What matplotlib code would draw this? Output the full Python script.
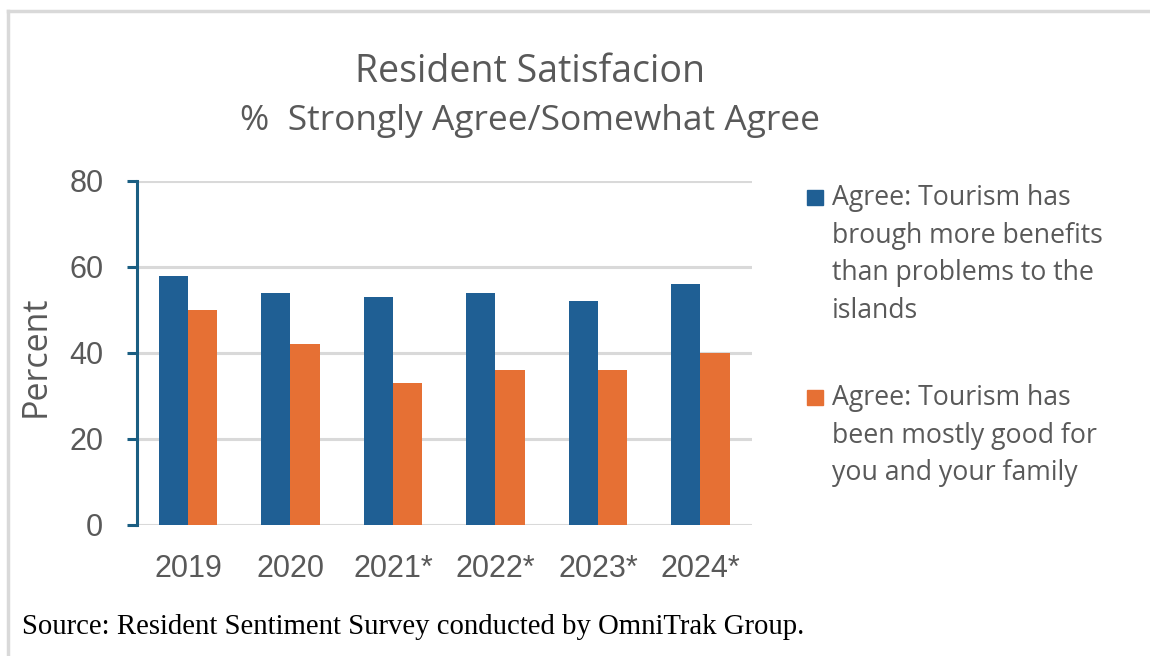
import matplotlib as mpl
mpl.use('Agg')

import matplotlib.pyplot as plt
import matplotlib.patches as patches
from matplotlib.lines import Line2D
import numpy as np

BLUE = '#1F5F94'
ORANGE = '#E67034'
TEXT = '#595959'
GRID = '#D9D9D9'
SPINE = '#1A5E82'

years = ['2019', '2020', '2021*', '2022*', '2023*', '2024*']
benefits = [58, 54, 53, 54, 52, 56]
good_for_family = [50, 42, 33, 36, 36, 40]
legend_labels = [
    ['Agree: Tourism has', 'brough more benefits', 'than problems to the', 'islands'],
    ['Agree: Tourism has', 'been mostly good for', 'you and your family'],
]
y_ticks = [0, 20, 40, 60, 80]

W, H = 1150, 656
fig = plt.figure(figsize=(W / 100, H / 100), dpi=100)
fig.patch.set_facecolor('white')

# plot area in pixels, converted to figure fractions
ax = fig.add_axes([136.7 / W, (H - 525) / H, 615 / W, 344 / H])

x = np.arange(len(years))
bw = 0.285
ax.bar(x - bw / 2, benefits, bw, color=BLUE, zorder=3)
ax.bar(x + bw / 2, good_for_family, bw, color=ORANGE, zorder=3)

ax.set_xlim(-0.5, len(years) - 0.5)
ax.set_ylim(0, 80)
ax.set_yticks(y_ticks)
ax.set_xticks(x)
ax.set_xticklabels(years)
ax.yaxis.grid(True, color=GRID, linewidth=2.2, zorder=0)
ax.set_axisbelow(True)

for s in ['top', 'right', 'bottom']:
    ax.spines[s].set_visible(False)
ax.spines['left'].set_color(SPINE)
ax.spines['left'].set_linewidth(2.2)

ax.tick_params(axis='y', length=7, width=2.2, color=SPINE, pad=17,
               labelsize=22, labelcolor=TEXT)
ax.tick_params(axis='x', length=0, pad=21, labelsize=22, labelcolor=TEXT)
for lab in ax.get_xticklabels() + ax.get_yticklabels():
    lab.set_family('Liberation Sans')

ax.set_ylabel('Percent', fontsize=24.5, color=TEXT, family='Open Sans')
ax.yaxis.set_label_coords(-84 / 615, 0.49)

# titles
fig.text(530 / W, 1 - 72 / H, 'Resident Satisfacion', ha='center', va='center',
         fontsize=27, color=TEXT, family='Open Sans')
fig.text(530 / W, 1 - 121 / H, '%  Strongly Agree/Somewhat Agree', ha='center', va='center',
         fontsize=25.5, color=TEXT, family='Open Sans')

# legend, drawn by hand so the swatch sits on the first line
starts = [205, 405]
for lines, col, base in zip(legend_labels, [BLUE, ORANGE], starts):
    fig.patches.append(patches.Rectangle((807 / W, 1 - (base) / H), 16 / W, 15 / H,
                                         transform=fig.transFigure, color=col))
    for i, t in enumerate(lines):
        fig.text(832 / W, 1 - (base + i * 37.5) / H, t, ha='left', va='baseline',
                 fontsize=19.2, color=TEXT, family='Open Sans')

# source note
fig.text(22 / W, 1 - 634 / H, 'Source: Resident Sentiment Survey conducted by OmniTrak Group.',
         ha='left', va='baseline', fontsize=20.7, color='black', family='Liberation Serif')

# light frame round the chart
fig.add_artist(Line2D([8 / W, 1], [1 - 11 / H, 1 - 11 / H], color=GRID, linewidth=2.5,
                      transform=fig.transFigure))
fig.add_artist(Line2D([8 / W, 8 / W], [0, 1 - 11 / H], color=GRID, linewidth=2.5,
                      transform=fig.transFigure))

fig.savefig('out.png', dpi=100)
